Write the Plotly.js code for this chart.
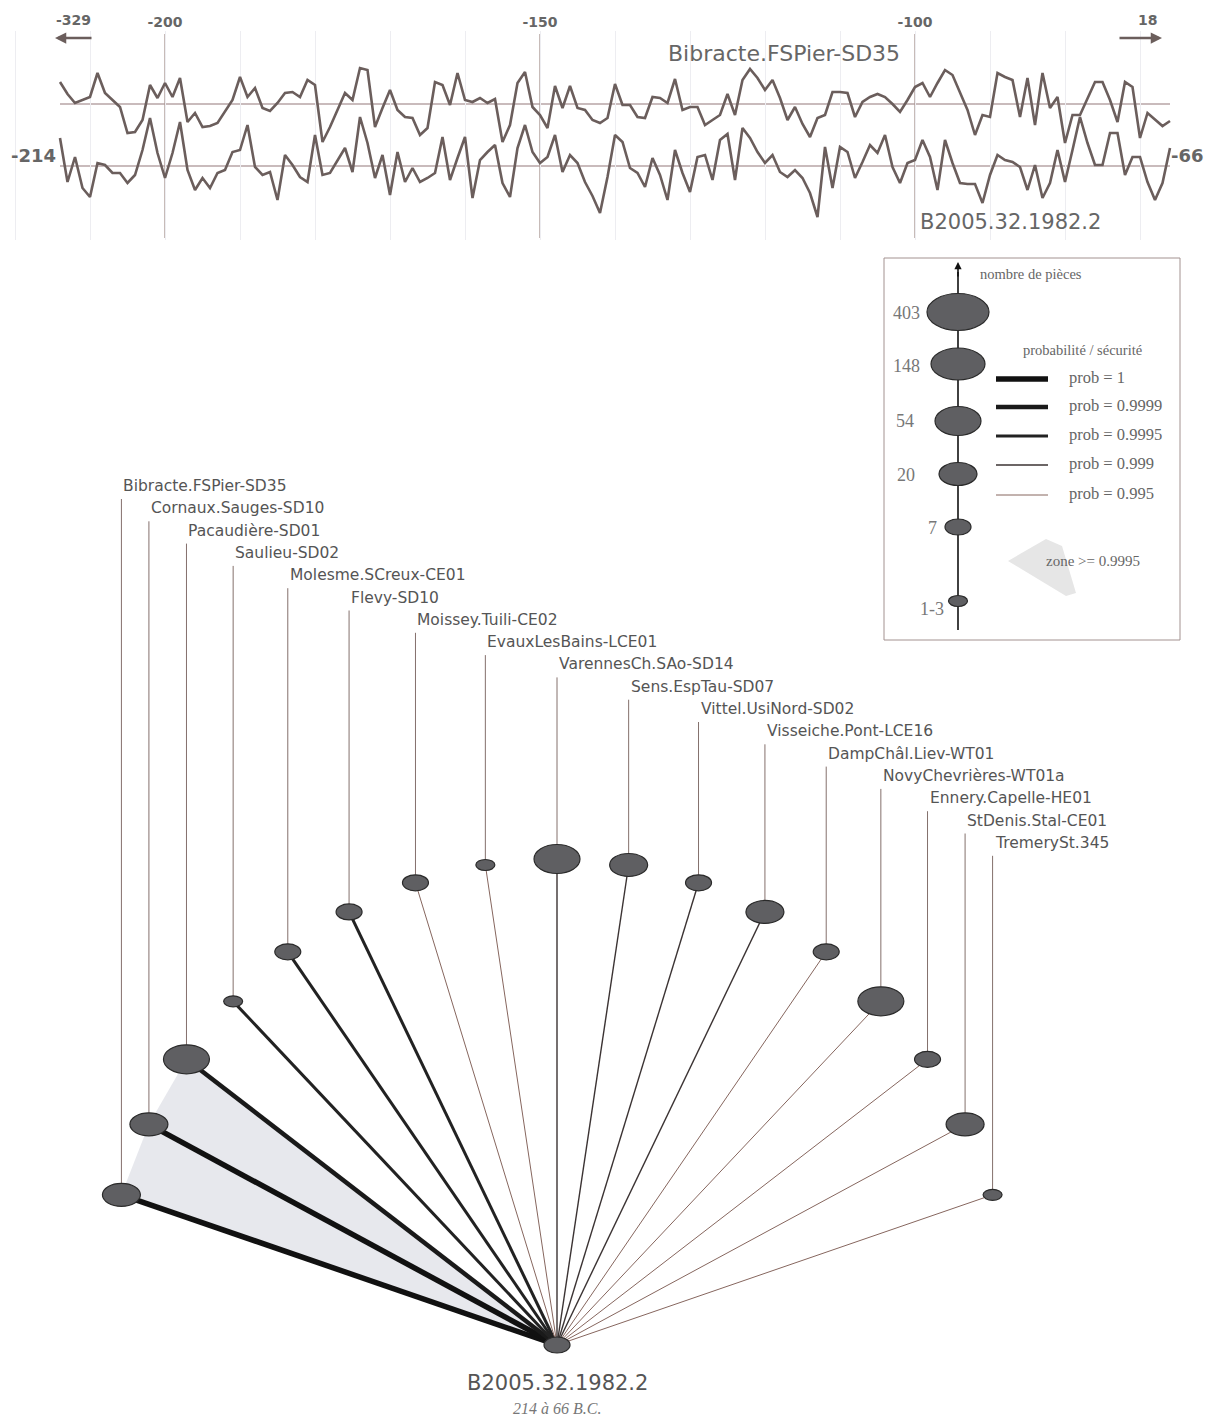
<!DOCTYPE html>
<html><head><meta charset="utf-8">
<script src="https://cdn.plot.ly/plotly-3.0.1.min.js"></script>
<style>html,body{margin:0;padding:0;background:#fff}#chart{width:1212px;height:1423px}</style>
</head><body><div id="chart"></div>
<script>
const W = 1212, H = 1423;

// ---------- DATA ----------
const firstYear = -214, lastYear = -66;           // overlap of the two series
const refName = 'Bibracte.FSPier-SD35';
const sampleName = 'B2005.32.1982.2';
const refStart = '-329', refEnd = '18';
const sampleStart = '-214', sampleEnd = '-66';
const sampleDates = '214 à 66 B.C.';
const yearTicks = [-200, -150, -100];

// ring-width index (larger = lower on the figure)
const bibracteSeries = [
  82,94,103,100,97,73,93,100,107,133,
  132,120,85,98,83,97,78,122,113,127,
  126,123,112,100,77,97,88,108,111,103,
  93,92,97,80,85,142,127,110,93,100,
  68,70,127,108,90,110,117,118,135,128,
  82,85,105,73,100,102,98,103,99,142,
  125,83,72,107,115,128,86,108,86,108,
  110,120,123,118,84,105,105,117,118,97,
  98,103,79,110,107,107,125,120,115,94,
  115,80,69,78,90,80,98,120,107,124,
  137,118,115,92,92,93,117,102,97,94,
  97,104,112,100,87,83,97,83,70,75,
  93,110,135,115,117,73,77,80,117,78,
  125,73,108,97,143,115,115,98,82,82,
  100,122,82,87,138,113,120,126,121
];
const sampleSeries = [
  138,182,157,188,197,163,165,173,173,183,
  175,150,118,153,178,153,122,170,190,178,
  188,173,170,152,150,125,167,175,172,200,
  155,165,177,182,135,175,173,160,148,172,
  117,143,178,155,195,152,182,168,182,178,
  173,137,180,158,137,198,160,152,145,183,
  197,148,125,152,163,157,135,172,155,163,
  182,196,213,177,135,142,168,173,187,158,
  175,200,150,173,192,157,155,180,140,134,
  180,128,138,152,163,155,172,177,170,178,
  193,217,147,188,147,152,178,162,145,153,
  135,167,183,163,160,140,157,190,140,163,
  183,184,184,203,175,155,160,162,167,190,
  165,198,183,150,182,150,117,143,165,165,
  133,133,175,157,157,182,200,183,148
];
const refMean = 104, sampleMean = 166;

const sites = ['Bibracte.FSPier-SD35','Cornaux.Sauges-SD10','Pacaudière-SD01','Saulieu-SD02',
  'Molesme.SCreux-CE01','Flevy-SD10','Moissey.Tuili-CE02','EvauxLesBains-LCE01',
  'VarennesCh.SAo-SD14','Sens.EspTau-SD07','Vittel.UsiNord-SD02','Visseiche.Pont-LCE16',
  'DampChâl.Liev-WT01','NovyChevrières-WT01a','Ennery.Capelle-HE01','StDenis.Stal-CE01','TremerySt.345'];
const sitePieces = ['20','20','54','1-3','7','7','7','1-3','54','20','7','20','7','54','7','20','1-3'];
const siteProb = [1,1,0.9999,0.9995,0.9995,0.9995,0.995,0.995,0.999,0.999,0.999,0.999,0.995,0.995,0.995,0.995,0.995];

const pieceClasses = ['403','148','54','20','7','1-3'];
const probClasses = [1, 0.9999, 0.9995, 0.999, 0.995];
const zoneThreshold = 0.9999;

// ---------- STYLES / LAYOUT HELPERS ----------
const ellSize = {'403':[62,37],'148':[54,32],'54':[46,29],'20':[38,23],'7':[26,16],'1-3':[19,11]};
const probStyle = {'1':{w:5.5,c:'#111'},'0.9999':{w:4.5,c:'#1a1a1a'},'0.9995':{w:3,c:'#222'},
                   '0.999':{w:1.4,c:'#3b3333'},'0.995':{w:1,c:'#86665e'}};
const curveColor = '#6b5e5c';
const PX = x => x / W, PY = y => 1 - y / H;
const sans = 'DejaVu Sans', serif = 'Liberation Serif';

const years = [];
for (let y = firstYear; y <= lastYear; y++) years.push(y);

const traces = [];
const shapes = [];
const ann = [];

// ---------- TOP: two series ----------
traces.push({x: years, y: bibracteSeries, xaxis:'x', yaxis:'y', mode:'lines',
  line:{color:curveColor, width:2.6}, hoverinfo:'skip'});
traces.push({x: years, y: sampleSeries, xaxis:'x', yaxis:'y', mode:'lines',
  line:{color:curveColor, width:2.6}, hoverinfo:'skip'});
[refMean, sampleMean].forEach(m => shapes.push({type:'line', xref:'x', yref:'y',
  x0:firstYear, x1:lastYear, y0:m, y1:m, line:{color:'#93797a', width:1.1}, layer:'below'}));
yearTicks.forEach(v => shapes.push({type:'line', xref:'x', yref:'y', x0:v, x1:v, y0:34, y1:238,
  line:{color:'#a99792', width:1.3}, layer:'below'}));

function txt(x, y, t, size, opts) {
  opts = opts || {};
  ann.push(Object.assign({xref:'paper', yref:'paper', x:PX(x), y:PY(y), text:t, showarrow:false,
    xanchor:'center', yanchor:'middle',
    font:{family:opts.family || sans, size:size, color:opts.color || '#666',
          weight: opts.bold ? 'bold' : 'normal', style: opts.italic ? 'italic' : 'normal'}}, opts.extra || {}));
}
function arrow(hx, hy, ax, ay, color, width, ref) {
  ann.push({xref: ref ? 'x2' : 'paper', yref: ref ? 'y2' : 'paper',
    x: ref ? hx : PX(hx), y: ref ? hy : PY(hy), ax:ax, ay:ay, text:'', showarrow:true,
    arrowhead:2, arrowsize:0.9, arrowwidth:width, arrowcolor:color});
}
txt(73, 20, refStart, 14, {bold:true});
arrow(55, 38, 38, 0, curveColor, 2.5);
txt(1147, 20, refEnd, 14, {bold:true});
arrow(1162, 38, -44, 0, curveColor, 2.5);
txt(33, 155, sampleStart, 18, {bold:true});
txt(1187, 155, sampleEnd, 18, {bold:true});
txt(784, 53, refName, 22);
txt(1010, 222, sampleName, 21);

// ---------- BOTTOM: fan diagram ----------
const cx0 = 557, cy0 = 1345, ra = 458, rb = 486;
const pos = sites.map((s, i) => {
  const th = (162 - 9 * i) * Math.PI / 180;
  return [cx0 + ra * Math.cos(th), cy0 - rb * Math.sin(th)];
});
// zone polygon
const zoneIdx = sites.map((s,i)=>i).filter(i => siteProb[i] >= zoneThreshold);
traces.push({x:[cx0].concat(zoneIdx.map(i=>pos[i][0]), [cx0]),
  y:[cy0].concat(zoneIdx.map(i=>pos[i][1]), [cy0]),
  xaxis:'x2', yaxis:'y2', mode:'lines', fill:'toself', fillcolor:'#e7e8ed',
  line:{width:0}, hoverinfo:'skip'});
// links
sites.forEach((s, i) => {
  const st = probStyle[String(siteProb[i])];
  traces.push({x:[cx0, pos[i][0]], y:[cy0, pos[i][1]], xaxis:'x2', yaxis:'y2', mode:'lines',
    line:{color:st.c, width:st.w}, hoverinfo:'skip'});
});
function ellipse(x, y, cls) {
  const [w, h] = ellSize[cls];
  shapes.push({type:'circle', xref:'x2', yref:'y2', x0:x-w/2, x1:x+w/2, y0:y-h/2, y1:y+h/2,
    fillcolor:'#5f5f62', line:{color:'#2a2a2a', width:1.2}, layer:'above'});
}
sites.forEach((s, i) => {
  const [x, y] = pos[i];
  const ly = 486 + 22.3 * i;
  const h = ellSize[sitePieces[i]][1];
  shapes.push({type:'line', xref:'x2', yref:'y2', x0:x, x1:x, y0:ly+13, y1:y-h/2,
    line:{color:'#84706c', width:1}, layer:'below'});
  ellipse(x, y, sitePieces[i]);
  ann.push({xref:'x2', yref:'y2', x:x, y:ly, text:s, showarrow:false, xanchor:'left', yanchor:'middle',
    font:{family:sans, size:15.5, color:'#555'}});
});
ellipse(cx0, cy0, '7');
txt(557, 1383, sampleName, 21, {color:'#555'});
txt(557, 1408, sampleDates, 16, {family:serif, italic:true, color:'#777'});

// ---------- LEGEND ----------
shapes.push({type:'rect', xref:'x2', yref:'y2', x0:884, x1:1180, y0:258, y1:640,
  line:{color:'#a39290', width:1}, layer:'below'});
shapes.push({type:'line', xref:'x2', yref:'y2', x0:958, x1:958, y0:272, y1:630,
  line:{color:'#111', width:1.6}, layer:'below'});
arrow(958, 262, 0, 16, '#111', 1.6, true);
txt(1031, 274, 'nombre de pièces', 14.5, {family:serif});
const legEllY = [312, 364, 421, 474, 527, 601];
const legLabX = [906, 906, 905, 906, 932, 932];
const legLabY = [313, 366, 421, 475, 528, 609];
pieceClasses.forEach((c, k) => {
  ellipse(958, legEllY[k], c);
  txt(legLabX[k], legLabY[k], c, 18, {family:serif, color:'#777'});
});
txt(1082, 350, 'probabilité / sécurité', 14.5, {family:serif});
const legLineY = [379, 407, 436, 465, 495];
probClasses.forEach((p, k) => {
  const st = probStyle[String(p)];
  shapes.push({type:'line', xref:'x2', yref:'y2', x0:996, x1:1048, y0:legLineY[k], y1:legLineY[k],
    line:{color:st.c, width:st.w}});
  ann.push({xref:'x2', yref:'y2', x:1067, y:legLineY[k]-2, text:'prob = ' + p, showarrow:false,
    xanchor:'left', yanchor:'middle', font:{family:serif, size:16.5, color:'#666'}});
});
traces.push({x:[1008,1046,1062,1076,1066,1008], y:[561,539,546,593,596,561], xaxis:'x2', yaxis:'y2',
  mode:'lines', fill:'toself', fillcolor:'#e6e6e6', line:{width:0}, hoverinfo:'skip'});
txt(1093, 561, 'zone >= 0.9995', 15, {family:serif});

const layout = {
  width: W, height: H, margin:{l:0, r:0, t:0, b:0}, showlegend:false,
  paper_bgcolor:'#fff', plot_bgcolor:'rgba(0,0,0,0)',
  xaxis:{domain:[0,1], range:[-222, -60.4], side:'top', anchor:'y', tickvals:yearTicks,
    ticktext:yearTicks.map(String), ticks:'', showgrid:false, zeroline:false, showline:false,
    ticklabelstandoff:0,
    tickfont:{family:sans, size:14, color:'#666', weight:'bold'},
    minor:{tick0:-200, dtick:10, showgrid:true, gridcolor:'#ededf1', gridwidth:1, ticks:''}},
  yaxis:{domain:[1-240/H, 1-31/H], range:[240, 31], visible:false, anchor:'x'},
  xaxis2:{domain:[0,1], range:[0, W], visible:false, anchor:'y2'},
  yaxis2:{domain:[0, 1-245/H], range:[H, 245], visible:false, anchor:'x2'},
  shapes: shapes, annotations: ann
};
Plotly.newPlot('chart', traces, layout, {staticPlot:true, displayModeBar:false});
</script></body></html>
